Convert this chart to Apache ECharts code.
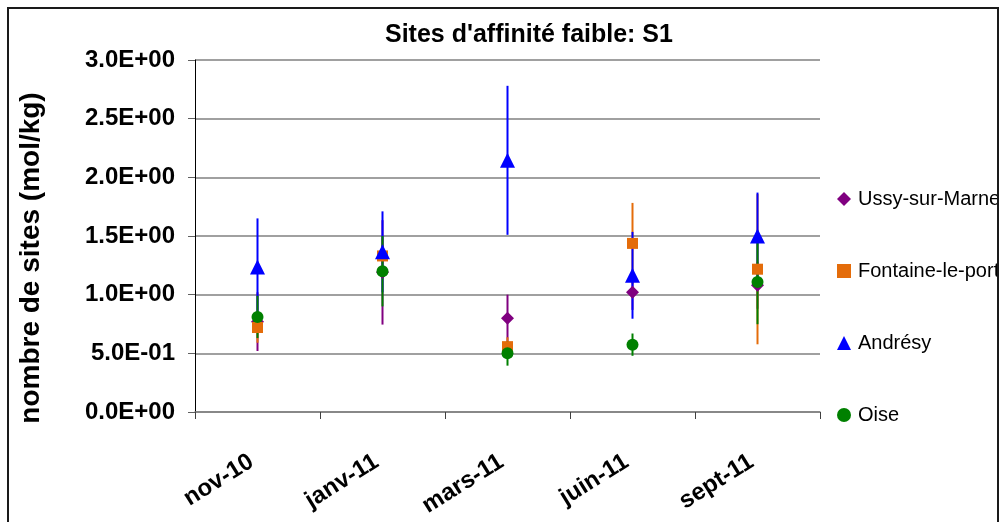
<!DOCTYPE html>
<html><head><meta charset="utf-8">
<script src="https://cdn.jsdelivr.net/npm/echarts@6/dist/echarts.min.js"></script>
<style>html,body{margin:0;padding:0;background:#fff}#c{width:1003px;height:522px}</style>
</head><body><div id="c"></div>
<script>
const categories = ['nov-10', 'janv-11', 'mars-11', 'juin-11', 'sept-11'];
const seriesNames = ['Ussy-sur-Marne', 'Fontaine-le-port', 'Andrésy', 'Oise'];
const ussyValues = [0.77, 1.19, 0.80, 1.02, 1.08];
const ussyErrors = [0.25, 0.445, 0.20, 0.15, 0.20];
const fontaineValues = [0.72, 1.33, 0.557, 1.437, 1.217];
const fontaineErrors = [0.13, 0.15, 0.08, 0.345, 0.64];
const andresyValues = [1.235, 1.365, 2.145, 1.165, 1.50];
const andresyErrors = [0.415, 0.345, 0.635, 0.37, 0.37];
const oiseValues = [0.81, 1.20, 0.50, 0.574, 1.108];
const oiseErrors = [0.18, 0.30, 0.105, 0.095, 0.36];

const values = [ussyValues, fontaineValues, andresyValues, oiseValues];
const errors = [ussyErrors, fontaineErrors, andresyErrors, oiseErrors];
const colors = ['#800080', '#E46C0A', '#0000FF', '#008000'];
const symbols = ['diamond', 'rect', 'triangle', 'circle'];
const sizes = [13, 11, 15, 12];

function sci(v) {
  if (Math.abs(v) < 1e-12) return '0.0E+00';
  let e = Math.floor(Math.log10(Math.abs(v)));
  let m = v / Math.pow(10, e);
  if (Math.round(m * 10) / 10 >= 10) { m /= 10; e++; }
  return m.toFixed(1) + 'E' + (e < 0 ? '-' : '+') + String(Math.abs(e)).padStart(2, '0');
}

const series = [];
values.forEach((vals, s) => {
  series.push({
    type: 'custom',
    name: seriesNames[s] + ' err',
    z: 2,
    silent: true,
    renderItem: function (params, api) {
      const p1 = api.coord([api.value(0), api.value(1)]);
      const p2 = api.coord([api.value(0), api.value(2)]);
      return { type: 'line', shape: { x1: p1[0], y1: p1[1], x2: p2[0], y2: p2[1] },
        style: { stroke: colors[s], lineWidth: 2 } };
    },
    data: vals.map((v, i) => [i, v - errors[s][i], v + errors[s][i]])
  });
});
values.forEach((vals, s) => {
  series.push({
    type: 'scatter',
    name: seriesNames[s],
    z: 5,
    symbol: symbols[s],
    symbolSize: sizes[s],
    itemStyle: { color: colors[s], opacity: 1 },
    data: vals
  });
});

const chart = echarts.init(document.getElementById('c'), null, { renderer: 'canvas' });
chart.setOption({
  animation: false,
  backgroundColor: '#fff',
  title: {
    text: "Sites d'affinité faible: S1",
    left: 380, top: 18,
    textStyle: { fontFamily: 'Liberation Sans, Arial', fontWeight: 'bold', fontSize: 25, color: '#000' }
  },
  grid: { left: 195, right: 183, top: 60, bottom: 110, containLabel: false },
  legend: {
    data: seriesNames,
    orient: 'vertical',
    left: 832, top: 184,
    itemGap: 52, itemWidth: 14, itemHeight: 14,
    textStyle: { fontFamily: 'Liberation Sans, Arial', fontSize: 20, color: '#000', padding: [0, 0, 0, 2] }
  },
  xAxis: {
    type: 'category',
    data: categories,
    axisLine: { lineStyle: { color: '#808080', width: 1.5 } },
    axisTick: { show: true, length: 7, lineStyle: { color: '#404040' } },
    axisLabel: { rotate: 32, margin: 44, padding: [0, 7, 0, 0], fontFamily: 'Liberation Sans, Arial', fontWeight: 'bold', fontSize: 24, color: '#000' },
    splitLine: { show: false }
  },
  yAxis: {
    type: 'value',
    min: 0, max: 3, interval: 0.5,
    name: 'nombre de sites (mol/kg)',
    nameLocation: 'middle', nameGap: 150, nameRotate: 90,
    nameTextStyle: { fontFamily: 'Liberation Sans, Arial', fontWeight: 'bold', fontSize: 28, color: '#000', padding: [0, 44, 0, 0] },
    axisLine: { show: true, lineStyle: { color: '#000', width: 1 } },
    axisTick: { show: true, length: 7, lineStyle: { color: '#606060' } },
    axisLabel: { formatter: sci, margin: 20, fontFamily: 'Liberation Sans, Arial', fontWeight: 'bold', fontSize: 24, color: '#000' },
    splitLine: { lineStyle: { color: '#808080', width: 1.5 } }
  },
  graphic: [
    { type: 'rect', z: 100, shape: { x: 999, y: 0, width: 10, height: 522 }, style: { fill: '#fff' } },
    { type: 'rect', z: 101, shape: { x: 8, y: 8, width: 990, height: 530 }, style: { fill: 'none', stroke: '#1a1a1a', lineWidth: 2 } }
  ],
  series: series
});
</script></body></html>
